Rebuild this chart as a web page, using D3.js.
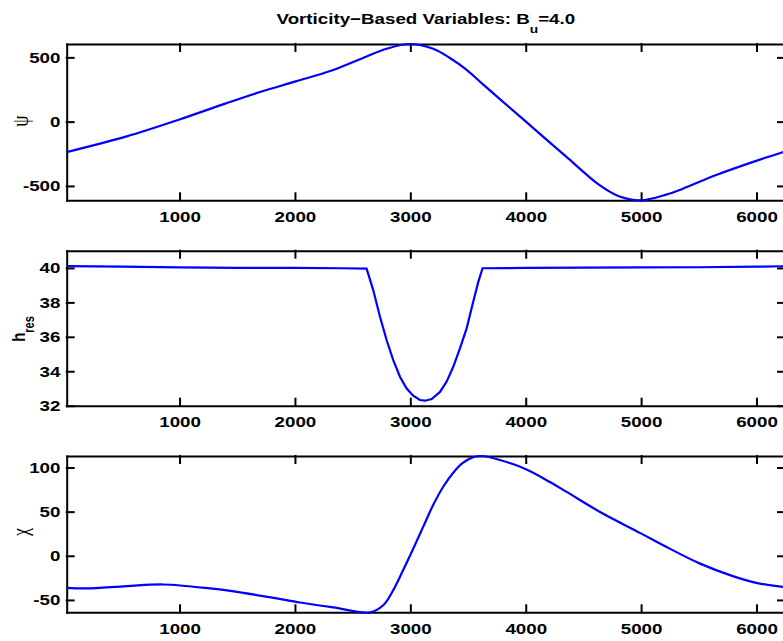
<!DOCTYPE html>
<html>
<head>
<meta charset="utf-8">
<script src="https://cdn.jsdelivr.net/npm/d3@7"></script>
<style>
    body { margin: 0; background: #fff; }
    svg text { font-family: "Liberation Sans", Arial, Helvetica, sans-serif; font-weight: bold; font-size: 15px; fill: #000; }
    .axis path, .axis line { stroke: #000; stroke-width: 2; stroke-linecap: square; }
    .data-line { fill: none; stroke: #0000ff; stroke-width: 2.2; }
</style>
</head>
<body>
<div id="chart"></div>
<script>
    var xTicks = [1000, 2000, 3000, 4000, 5000, 6000];
    var xDomain = [22, 6247];

    // psi
    var psiX = [22, 542, 1000, 1408, 1697, 2006, 2332, 2621, 2795, 2997, 3198, 3343, 3488, 3632, 3776,
        4002, 4210, 4351, 4640, 4814, 4998, 5217, 5362, 5651, 5997, 6247];
    var psiY = [-237, -115, 17, 144, 230, 313, 402, 507, 567, 604, 567, 495, 403, 288, 175,
        0, -163, -272, -494, -583, -612, -568, -522, -415, -305, -232];
    var psiTicks = [-500, 0, 500];
    var psiDomain = [-612, 604];

    // h_res
    var hX = [22, 500, 1000, 1500, 2000, 2400, 2621, 2679, 2737, 2795, 2852, 2910, 2968, 3025, 3083, 3127,
        3185, 3257, 3315, 3372, 3430, 3488, 3545, 3589, 3626, 4000, 4500, 5000, 5500, 6000, 6247];
    var hY = [40.1, 40.08, 40.03, 40.0, 40.0, 39.98, 39.96, 38.7, 37.16, 35.8, 34.65, 33.68, 33.0, 32.58, 32.33, 32.29,
        32.39, 32.8, 33.4, 34.26, 35.33, 36.49, 38.03, 39.19, 39.98, 40.0, 40.02, 40.03, 40.04, 40.07, 40.1];
    var hTicks = [32, 34, 36, 38, 40];
    var hDomain = [32, 41];

    // chi
    var chiX = [22, 195, 542, 859, 1263, 1552, 1841, 2043, 2332, 2650, 2765, 2852, 2938, 3025, 3112, 3198,
        3285, 3372, 3458, 3545, 3618, 3776, 4002, 4210, 4351, 4640, 4998, 5217, 5506, 5795, 5997, 6247];
    var chiY = [-36.3, -37, -34.4, -32.5, -37, -42, -48.3, -52.9, -58.5, -64, -56, -38.9, -16.2, 8, 33, 57.5,
        78.2, 94.1, 105.4, 111.6, 113, 108.5, 98, 83.5, 72.6, 49.9, 25.4, 10.2, -8.6, -23, -30.6, -35.5];
    var chiTicks = [-50, 0, 50, 100];
    var chiDomain = [-64, 113];

    var width = 783;
    var height = 641;
    var plotLeft = 66.7;
    var plotRight = 785;
    var tickLen = 7;
    var stretch = 1.25;   // the source figure is stretched sideways

    var svg = d3.select("#chart").append("svg")
        .attr("width", width)
        .attr("height", height);

    var x = d3.scaleLinear().domain(xDomain).range([plotLeft, plotRight]);

    var smooth = d3.curveCatmullRom.alpha(0.5);
    var panels = [
        { xs: psiX, ys: psiY, ticks: psiTicks, domain: psiDomain, top: 44, bottom: 200.3, curve: smooth },
        { xs: hX, ys: hY, ticks: hTicks, domain: hDomain, top: 250.7, bottom: 405.7, curve: d3.curveLinear },
        { xs: chiX, ys: chiY, ticks: chiTicks, domain: chiDomain, top: 456, bottom: 612.3, curve: smooth }
    ];

    function stretchText(sel) {
        sel.selectAll("text").attr("transform", "scale(" + stretch + ",1)");
    }

    panels.forEach(function(p) {
        var y = d3.scaleLinear().domain(p.domain).range([p.bottom, p.top]);
        var g = svg.append("g");

        g.append("g").attr("class", "axis")
            .attr("transform", "translate(0," + p.bottom + ")")
            .call(d3.axisBottom(x).tickValues(xTicks).tickSize(-tickLen).tickSizeOuter(0)
                .tickPadding(11).tickFormat(d3.format("d")))
            .call(stretchText);

        g.append("g").attr("class", "axis")
            .attr("transform", "translate(0," + p.top + ")")
            .call(d3.axisTop(x).tickValues(xTicks).tickSize(-tickLen).tickSizeOuter(0).tickFormat(""));

        g.append("g").attr("class", "axis")
            .attr("transform", "translate(" + plotLeft + ",0)")
            .call(d3.axisLeft(y).tickValues(p.ticks).tickSize(-tickLen).tickSizeOuter(0)
                .tickPadding(5).tickFormat(function(d) { return String(d); }))
            .call(stretchText);

        g.append("g").attr("class", "axis")
            .attr("transform", "translate(" + plotRight + ",0)")
            .call(d3.axisRight(y).tickValues(p.ticks).tickSize(-tickLen).tickSizeOuter(0).tickFormat(""));

        var line = d3.line()
            .x(function(d) { return x(d[0]); })
            .y(function(d) { return y(d[1]); })
            .curve(p.curve);

        g.append("path")
            .attr("class", "data-line")
            .attr("d", line(d3.zip(p.xs, p.ys)));
    });

    // title
    var title = svg.append("g")
        .attr("transform", "translate(" + ((plotLeft + plotRight) / 2) + ",24) scale(" + stretch + ",1)")
        .append("text")
        .attr("text-anchor", "middle");
    title.append("tspan").text("Vorticity\u2212Based Variables: B");
    title.append("tspan").attr("dy", 9).style("font-size", "11px").text("u");
    title.append("tspan").attr("dy", -9).text("=4.0");

    // y labels, centred by measuring them
    function yLabel(xPos, yPos) {
        return svg.append("g")
            .attr("transform", "translate(" + xPos + "," + yPos + ") rotate(-90) scale(1," + stretch + ")")
            .append("text")
            .attr("text-anchor", "start");
    }
    function centre(t) {
        var len = t.node().getComputedTextLength();
        t.attr("x", -len / 2);
    }

    var psiLab = yLabel(28, 121).style("font-weight", "normal").style("font-size", "18px")
        .style("font-family", "'Liberation Serif', serif").text("\u03c8");
    centre(psiLab);

    var hl = yLabel(25, 329);
    hl.append("tspan").text("h");
    hl.append("tspan").attr("dy", 7).style("font-size", "11px").text("res");
    centre(hl);

    var chiLab = yLabel(28, 532).style("font-weight", "normal").style("font-size", "18px")
        .style("font-family", "'Liberation Serif', serif").text("\u03c7");
    centre(chiLab);
</script>
</body>
</html>
